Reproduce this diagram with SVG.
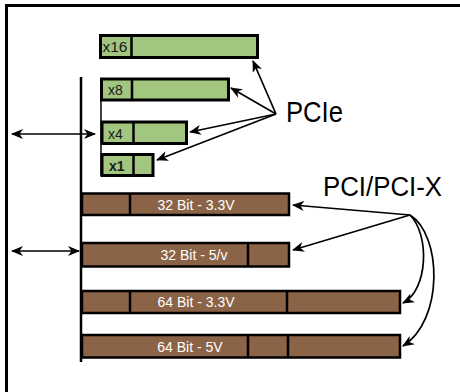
<svg xmlns="http://www.w3.org/2000/svg" width="460" height="392" viewBox="0 0 460 392">
  <defs>
    <marker id="ah" viewBox="0 0 12 10" refX="11" refY="5" markerWidth="12" markerHeight="10" markerUnits="userSpaceOnUse" orient="auto-start-reverse">
      <path d="M0,0 L12,5 L0,10 L3.5,5 Z" fill="#000"/>
    </marker>
  </defs>
  <style>
    .pcie { fill: #a2c57f; stroke: #000; stroke-width: 3; }
    .pci { fill: #8b6347; stroke: #000; stroke-width: 2.5; }
    .div { stroke: #000; stroke-width: 2.5; }
    .lbl { font-family: "Liberation Sans", Arial, sans-serif; font-size: 14px; fill: #1a1a1a; }
    .slot { font-family: "Liberation Sans", Arial, sans-serif; font-size: 14px; fill: #ffffff; text-anchor: middle; }
    .big { font-family: "Liberation Sans", Arial, sans-serif; fill: #000; }
    .conn { stroke: #000; stroke-width: 1.7; fill: none; }
  </style>
  <rect width="460" height="392" fill="#fff"/>

  <g id="frame">
    <path d="M6.5,392 L6.5,5.5 L460,5.5" fill="none" stroke="#000" stroke-width="3"/>
  </g>

  <g id="bus">
    <line x1="81" y1="77" x2="81" y2="362" stroke="#000" stroke-width="2.5"/>
    <line x1="101" y1="100" x2="101" y2="176" stroke="#000" stroke-width="1.5"/>
  </g>

  <g id="pcie-x16">
    <rect class="pcie" x="100.5" y="35.5" width="157" height="22"/>
    <line class="div" x1="131.5" y1="35.5" x2="131.5" y2="57.5"/>
    <text class="lbl" x="102.5" y="51.5" textLength="25" lengthAdjust="spacingAndGlyphs">x16</text>
  </g>
  <g id="pcie-x8">
    <rect class="pcie" x="101.5" y="79" width="127" height="21"/>
    <line class="div" x1="132" y1="79" x2="132" y2="100"/>
    <text class="lbl" x="108" y="94.5">x8</text>
  </g>
  <g id="pcie-x4">
    <rect class="pcie" x="102" y="122" width="84.5" height="21.5"/>
    <line class="div" x1="133.5" y1="122" x2="133.5" y2="143.5"/>
    <text class="lbl" x="108" y="138.5">x4</text>
  </g>
  <g id="pcie-x1">
    <rect class="pcie" x="102" y="154.5" width="51" height="21"/>
    <line class="div" x1="133.5" y1="154.5" x2="133.5" y2="175.5"/>
    <text class="lbl" x="109" y="170.5" font-weight="bold">x1</text>
  </g>

  <g id="pci-32-33">
    <rect class="pci" x="82" y="193.5" width="207" height="21.5"/>
    <line class="div" x1="130" y1="193.5" x2="130" y2="215"/>
    <text class="slot" x="196" y="209.5">32 Bit - 3.3V</text>
  </g>
  <g id="pci-32-5">
    <rect class="pci" x="82" y="243" width="207" height="23.5"/>
    <line class="div" x1="248" y1="243" x2="248" y2="266.5"/>
    <text class="slot" x="194" y="259.5">32 Bit - 5/v</text>
  </g>
  <g id="pci-64-33">
    <rect class="pci" x="82" y="291" width="318" height="22"/>
    <line class="div" x1="130" y1="291" x2="130" y2="313"/>
    <line class="div" x1="287" y1="291" x2="287" y2="313"/>
    <text class="slot" x="196" y="307">64 Bit - 3.3V</text>
  </g>
  <g id="pci-64-5">
    <rect class="pci" x="82" y="335" width="318" height="22.5"/>
    <line class="div" x1="248" y1="335" x2="248" y2="357.5"/>
    <line class="div" x1="288" y1="335" x2="288" y2="357.5"/>
    <text class="slot" x="190" y="351.5">64 Bit - 5V</text>
  </g>

  <g id="label-pcie">
    <text class="big" x="286" y="122" font-size="30" textLength="57" lengthAdjust="spacingAndGlyphs">PCIe</text>
  </g>
  <g id="label-pci">
    <text class="big" x="323" y="196" font-size="27" textLength="119" lengthAdjust="spacingAndGlyphs">PCI/PCI-X</text>
  </g>

  <g id="connectors">
    <line class="conn" x1="12" y1="134" x2="95" y2="134" marker-start="url(#ah)" marker-end="url(#ah)"/>
    <line class="conn" x1="12" y1="251" x2="79" y2="251" marker-start="url(#ah)" marker-end="url(#ah)"/>
    <line class="conn" x1="276" y1="114" x2="253" y2="61" marker-end="url(#ah)"/>
    <line class="conn" x1="276" y1="114" x2="231" y2="88" marker-end="url(#ah)"/>
    <line class="conn" x1="276" y1="114" x2="190" y2="132" marker-end="url(#ah)"/>
    <line class="conn" x1="276" y1="114" x2="157" y2="160" stroke-width="1.2" marker-end="url(#ah)"/>
    <line class="conn" x1="410" y1="215" x2="293" y2="205" marker-end="url(#ah)"/>
    <line class="conn" x1="410" y1="215" x2="293" y2="250" marker-end="url(#ah)"/>
    <path class="conn" d="M410,215 C430,235 428,290 403,303" marker-end="url(#ah)"/>
    <path class="conn" d="M410,215 C442,235 444,320 403,346" marker-end="url(#ah)"/>
  </g>
</svg>
